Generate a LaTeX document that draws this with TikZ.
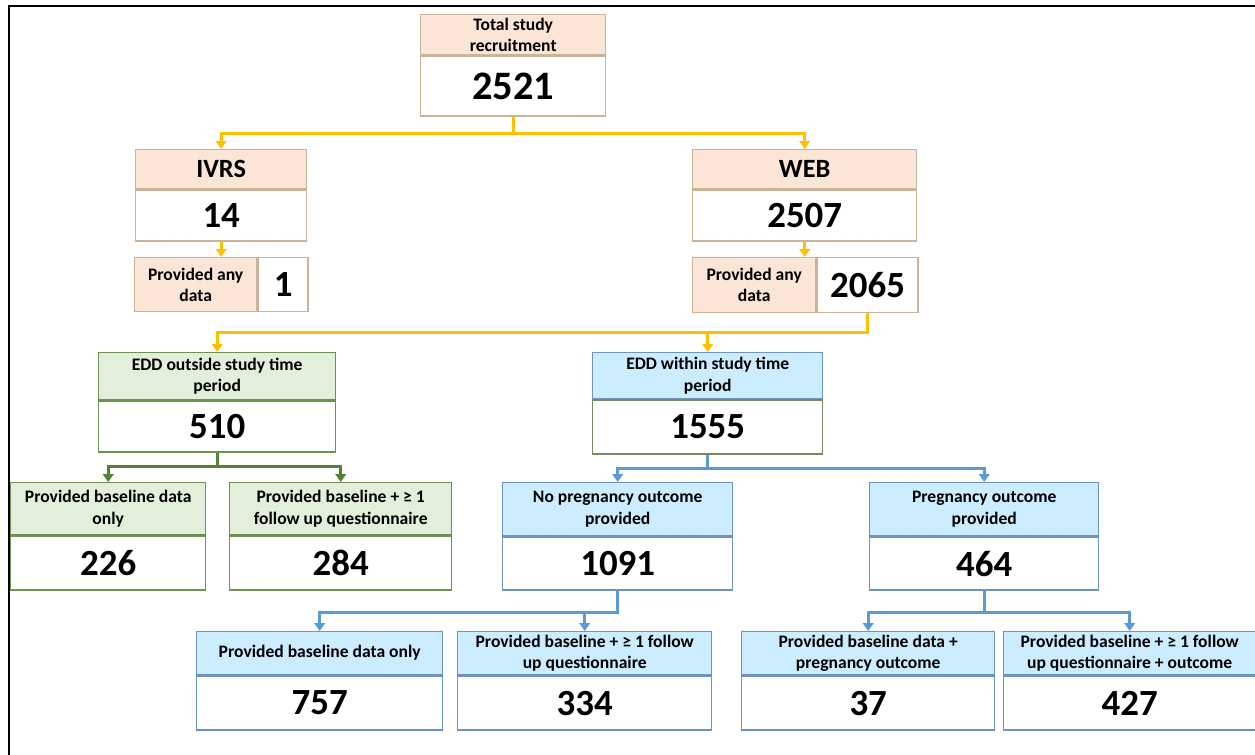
\documentclass[tikz,border=0pt]{standalone}
\usepackage{fontspec}
\setmainfont{Carlito}
\usetikzlibrary{arrows.meta}
\definecolor{peach}{HTML}{FBE5D6}
\definecolor{peachline}{HTML}{C9B49A}
\definecolor{greenfill}{HTML}{E2EFDA}
\definecolor{greenline}{HTML}{6E9050}
\definecolor{bluefill}{HTML}{CCECFF}
\definecolor{blueline}{HTML}{6F93BF}
\definecolor{yarrow}{HTML}{FFC000}
\definecolor{garrow}{HTML}{548235}
\definecolor{barrow}{HTML}{5B9BD5}
\begin{document}
\begin{tikzpicture}[
  cell/.style={draw,line width=0.8pt,inner sep=0pt,align=center},
  hdbox/.style={cell,anchor=north west,font=\fontsize{10}{12}\selectfont\bfseries},
  bighd/.style={hdbox,font=\fontsize{15}{18}\selectfont\bfseries},
  numbox/.style={cell,fill=white,font=\fontsize{21}{24}\selectfont\bfseries},
  peachhd/.style={draw=peachline,fill=peach},
  greenhd/.style={draw=greenline,fill=greenfill},
  bluehd/.style={draw=blueline,fill=bluefill},
  link/.style={line width=1.6pt,-{Triangle[width=6pt,length=4.5pt]}},
  yline/.style={link,draw=yarrow},
  gline/.style={link,draw=garrow},
  bline/.style={link,draw=barrow}]
  \useasboundingbox (0,0) rectangle (25.1,-15.1);
  \draw[line width=1.2pt] (0.18,-15.1) -- (0.18,-0.12) -- (25.1,-0.12);

  % recruitment
  \node[hdbox,peachhd,minimum width=3.7cm,minimum height=0.8cm] (totH) at (8.40,-0.28) {Total study\\recruitment};
  \node[numbox,draw=peachline,minimum width=3.7cm,minimum height=1.2cm,anchor=north,font=\fontsize{23}{26}\selectfont\bfseries] (totN) at (totH.south) {2521};

  % IVRS and WEB
  \node[bighd,peachhd,minimum width=3.42cm,minimum height=0.78cm] (ivrsH) at (2.70,-2.98) {IVRS};
  \node[numbox,draw=peachline,minimum width=3.42cm,minimum height=1.02cm,anchor=north] (ivrsN) at (ivrsH.south) {14};
  \node[hdbox,peachhd,minimum width=2.44cm,minimum height=1.08cm] (ivrsP) at (2.68,-5.14) {Provided any\\data};
  \node[numbox,draw=peachline,minimum width=1.0cm,minimum height=1.08cm,anchor=west] (ivrsPN) at (ivrsP.east) {1};

  \node[bighd,peachhd,minimum width=4.48cm,minimum height=0.78cm] (webH) at (13.84,-2.98) {WEB};
  \node[numbox,draw=peachline,minimum width=4.48cm,minimum height=1.02cm,anchor=north] (webN) at (webH.south) {2507};
  \node[hdbox,peachhd,minimum width=2.46cm,minimum height=1.10cm] (webP) at (13.84,-5.14) {Provided any\\data};
  \node[numbox,draw=peachline,minimum width=2.02cm,minimum height=1.10cm,anchor=west] (webPN) at (webP.east) {2065};

  % EDD
  \node[hdbox,greenhd,minimum width=4.74cm,minimum height=0.94cm] (outH) at (1.96,-7.04) {EDD outside study time\\period};
  \node[numbox,draw=greenline,minimum width=4.74cm,minimum height=1.02cm,anchor=north] (outN) at (outH.south) {510};
  \node[hdbox,bluehd,minimum width=4.60cm,minimum height=0.92cm] (inH) at (11.84,-7.04) {EDD within study time\\period};
  \node[numbox,draw=greenline!70!gray,minimum width=4.60cm,minimum height=1.08cm,anchor=north] (inN) at (inH.south) {1555};

  % outside study period
  \node[hdbox,greenhd,minimum width=3.90cm,minimum height=1.04cm] (outA) at (0.20,-9.64) {Provided baseline data\\only};
  \node[numbox,draw=greenline,minimum width=3.90cm,minimum height=1.08cm,anchor=north] (outAN) at (outA.south) {226};
  \node[hdbox,greenhd,minimum width=4.44cm,minimum height=1.04cm] (outB) at (4.58,-9.64) {Provided baseline + ≥ 1\\follow up questionnaire};
  \node[numbox,draw=greenline,minimum width=4.44cm,minimum height=1.08cm,anchor=north] (outBN) at (outB.south) {284};

  % within study period
  \node[hdbox,bluehd,minimum width=4.60cm,minimum height=1.06cm] (noH) at (10.04,-9.64) {No pregnancy outcome\\provided};
  \node[numbox,draw=blueline,minimum width=4.60cm,minimum height=1.06cm,anchor=north] (noN) at (noH.south) {1091};
  \node[hdbox,bluehd,minimum width=4.58cm,minimum height=1.06cm] (yesH) at (17.38,-9.64) {Pregnancy outcome\\provided};
  \node[numbox,draw=blueline,minimum width=4.58cm,minimum height=1.06cm,anchor=north] (yesN) at (yesH.south) {464};

  \node[hdbox,bluehd,minimum width=4.92cm,minimum height=0.86cm] (noA) at (3.92,-12.62) {Provided baseline data only};
  \node[numbox,draw=blueline,minimum width=4.92cm,minimum height=1.08cm,anchor=north] (noAN) at (noA.south) {757};
  \node[hdbox,bluehd,minimum width=5.08cm,minimum height=0.86cm] (noB) at (9.14,-12.62) {Provided baseline + ≥ 1 follow\\up questionnaire};
  \node[numbox,draw=blueline,minimum width=5.08cm,minimum height=1.08cm,anchor=north] (noBN) at (noB.south) {334};
  \node[hdbox,bluehd,minimum width=5.06cm,minimum height=0.86cm] (yesA) at (14.82,-12.62) {Provided baseline data +\\pregnancy outcome};
  \node[numbox,draw=blueline,minimum width=5.06cm,minimum height=1.08cm,anchor=north] (yesAN) at (yesA.south) {37};
  \node[hdbox,bluehd,minimum width=5.04cm,minimum height=0.86cm] (yesB) at (20.06,-12.62) {Provided baseline + ≥ 1 follow\\up questionnaire + outcome};
  \node[numbox,draw=blueline,minimum width=5.04cm,minimum height=1.08cm,anchor=north] (yesBN) at (yesB.south) {427};

  % connectors
  \coordinate (totJ) at ([yshift=-0.34cm]totN.south);
  \draw[yline] (totN.south) -- (totJ) -| (ivrsH.north);
  \draw[yline] (totJ) -| (webH.north);
  \draw[yline] (ivrsN.south) -- (ivrsP.north -| ivrsN.south);
  \draw[yline] (webN.south) -- (webP.north -| webN.south);
  \coordinate (webJ) at ([yshift=-0.38cm]webPN.south);
  \draw[yline] (webPN.south) -- (webJ) -| (outH.north);
  \draw[yline] (webJ) -| (inH.north);
  \coordinate (outJ) at ([yshift=-0.28cm]outN.south);
  \draw[gline] (outN.south) -- (outJ) -| (outA.north);
  \draw[gline] (outJ) -| (outB.north);
  \coordinate (inJ) at ([yshift=-0.28cm]inN.south);
  \draw[bline] (inN.south) -- (inJ) -| (noH.north);
  \draw[bline] (inJ) -| (yesH.north);
  \coordinate (noJ) at ([yshift=-0.44cm]noN.south);
  \draw[bline] (noN.south) -- (noJ) -| (noA.north);
  \draw[bline] (noJ) -| (noB.north);
  \coordinate (yesJ) at ([yshift=-0.44cm]yesN.south);
  \draw[bline] (yesN.south) -- (yesJ) -| (yesA.north);
  \draw[bline] (yesJ) -| (yesB.north);
\end{tikzpicture}
\end{document}
